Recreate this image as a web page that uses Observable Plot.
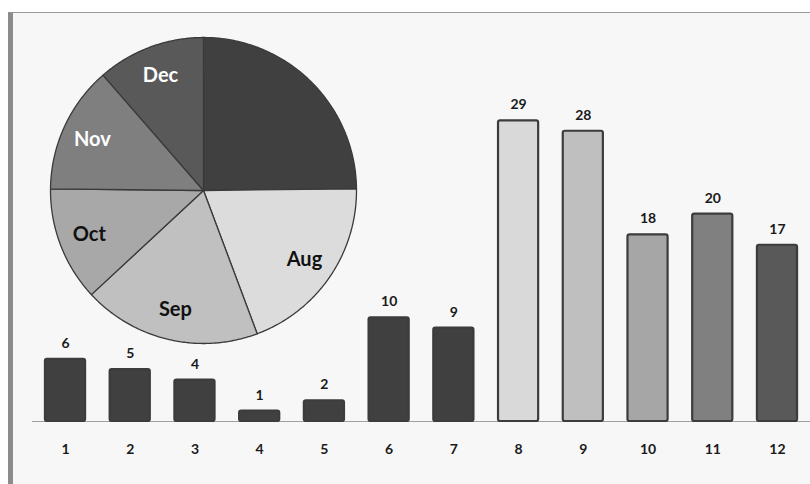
<!DOCTYPE html>
<html><head><meta charset="utf-8">
<script src="https://cdn.jsdelivr.net/npm/d3@7"></script>
<script src="https://cdn.jsdelivr.net/npm/@observablehq/plot@0.6"></script>
<style>
body{margin:0;background:#fff;}
#wrap{position:relative;width:810px;height:484px;overflow:hidden;}
#frame{position:absolute;left:8px;top:12px;right:0;bottom:0;background:#f7f7f7;border-left:5px solid #8c8c8c;border-top:1px solid #9a9a9a;}
#bars,#pie{position:absolute;left:0;top:0;}
</style></head><body>
<div id="wrap"><div id="frame"></div><div id="bars"></div><div id="pie"></div></div>
<script>
// Bar data
const months = [1, 2, 3, 4, 5, 6, 7, 8, 9, 10, 11, 12];
const values = [6, 5, 4, 1, 2, 10, 9, 29, 28, 18, 20, 17];
const barColors = ["#404040","#404040","#404040","#404040","#404040","#404040","#404040","#d9d9d9","#bfbfbf","#a6a6a6","#808080","#595959"];

// Pie data
const pieNames = ["Jan-Jul", "Aug", "Sep", "Oct", "Nov", "Dec"];
const pieValues = [37, 29, 28, 18, 20, 17];
const pieLabels = ["", "Aug", "Sep", "Oct", "Nov", "Dec"];
const pieColors = ["#404040", "#dcdcdc", "#c0c0c0", "#a8a8a8", "#7f7f7f", "#595959"];
const pieLabelColors = ["#ffffff", "#111111", "#111111", "#111111", "#ffffff", "#ffffff"];

const font = "Lato, 'Open Sans', sans-serif";

const barData = months.map((m, i) => ({month: m, value: values[i]}));

const bars = Plot.plot({
  width: 810, height: 484,
  marginLeft: 32, marginRight: 0, marginTop: 110, marginBottom: 63,
  style: {background: "transparent", fontFamily: font, fontWeight: "bold", fontSize: "14px", color: "#1a1a1a"},
  x: {type: "band", domain: months, paddingInner: 0.38, paddingOuter: 0.2, round: false, tickSize: 0, tickPadding: 23, label: null},
  y: {domain: [0, 30], axis: null},
  color: {type: "ordinal", domain: months, range: barColors},
  marks: [
    Plot.ruleY([0], {stroke: "#a0a0a0", strokeWidth: 1}),
    Plot.barY(barData, {x: "month", y: "value", fill: "month", stroke: "#3c3c3c", strokeWidth: 2.2, rx: 2}),
    Plot.text(barData, {x: "month", y: "value", text: d => String(d.value), dy: -16, fontSize: 14, fontWeight: "bold", fill: "#1a1a1a"})
  ]
});
document.getElementById("bars").appendChild(bars);

// Pie geometry via d3.pie
const arcs = d3.pie().sort(null).value(d => d)(pieValues);
const slicePts = [];
arcs.forEach((a, i) => {
  slicePts.push({name: pieNames[i], x: 0, y: 0});
  const n = Math.max(2, Math.ceil((a.endAngle - a.startAngle) / 0.01));
  for (let k = 0; k <= n; k++) {
    const t = a.startAngle + (a.endAngle - a.startAngle) * k / n;
    slicePts.push({name: pieNames[i], x: Math.sin(t), y: Math.cos(t)});
  }
  slicePts.push({name: pieNames[i], x: 0, y: 0});
});
const labelData = arcs.map((a, i) => {
  const m = (a.startAngle + a.endAngle) / 2;
  return {name: pieNames[i], label: pieLabels[i], color: pieLabelColors[i], x: 0.8 * Math.sin(m), y: 0.8 * Math.cos(m)};
}).filter(d => d.label);

const pie = Plot.plot({
  width: 810, height: 484,
  marginLeft: 50, marginRight: 810 - 356, marginTop: 37, marginBottom: 484 - 343,
  style: {background: "transparent", fontFamily: font, fontWeight: "bold"},
  x: {domain: [-1, 1], axis: null},
  y: {domain: [-1, 1], axis: null},
  color: {type: "ordinal", domain: pieNames, range: pieColors},
  marks: [
    Plot.line(slicePts, {x: "x", y: "y", z: "name", fill: "name", stroke: "#3a3a3a", strokeWidth: 1.3, strokeLinejoin: "round"}),
    Plot.text(labelData, {x: "x", y: "y", text: "label", fill: d => d.color, fontSize: 20, fontWeight: "bold"})
  ]
});
pie.style.pointerEvents = "none";
document.getElementById("pie").appendChild(pie);
</script>
</body></html>
